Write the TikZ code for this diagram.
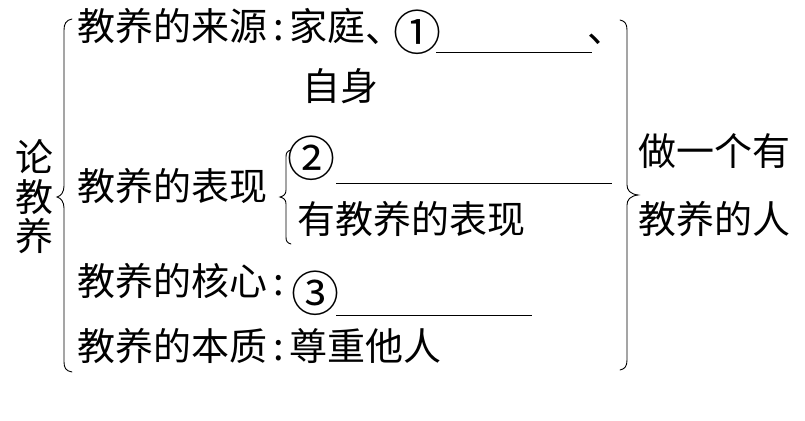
\documentclass[tikz,border=0pt]{standalone}
\usepackage{fontspec}
\setmainfont{Noto Sans CJK SC}
\begin{document}
\begin{tikzpicture}[x=1pt,y=-1pt,
  txt/.style={anchor=west,inner sep=0pt,text height=0.88em,text depth=0.12em,font=\fontsize{38}{40}\selectfont},
  glyph/.style={anchor=center,inner sep=0pt,font=\fontsize{38}{40}\selectfont},
  cnum/.style={anchor=center,inner sep=0pt,font=\fontsize{48}{48}\selectfont},
  bracepath/.style={line width=0.9pt,line cap=round},
  blank/.style={line width=0.9pt}]
\useasboundingbox (0,0) rectangle (805,420);
% root
\node[inner sep=0pt,align=center,font=\fontsize{38}{39.5}\selectfont] (root) at (35,197) {论\\教\\养};
% left brace
\draw[bracepath] (72,19) .. controls (66,20) and (64,24) .. (64,30) -- (64,186)
  .. controls (64,192) and (61,196) .. (57,197) .. controls (61,198) and (64,202) .. (64,208)
  -- (64,362) .. controls (64,368) and (66,371) .. (72,372);
% row 1
\node[txt] (r1) at (77,37) {教养的来源\kern6pt:\kern6pt家庭};
\node[glyph] (r1s) at (384,39) {、};
\node[cnum] (c1) at (417,32) {①};
\coordinate (u1a) at (436,52); \coordinate (u1b) at (592,52);
\draw[blank] (u1a) -- (u1b);
\node[glyph] (r1c) at (606,39) {、};
\node[txt] (r1b) at (302,97) {自身};
% row 2
\node[txt] (r2) at (77,197) {教养的表现};
\draw[bracepath] (291,150) .. controls (287,151) and (286,153) .. (286,157) -- (286,190)
  .. controls (286,194) and (284,196) .. (280,197) .. controls (284,198) and (286,200) .. (286,204)
  -- (286,237) .. controls (286,241) and (287,243) .. (291,244);
\node[cnum] (c2) at (311,158) {②};
\coordinate (u2a) at (336,183); \coordinate (u2b) at (612,183);
\draw[blank] (u2a) -- (u2b);
\node[txt] (r2b) at (297,230) {有教养的表现};
% row 3
\node[txt] (r3) at (77,292) {教养的核心\kern6pt:};
\node[cnum] (c3) at (315,293) {③};
\coordinate (u3a) at (336,315); \coordinate (u3b) at (532,315);
\draw[blank] (u3a) -- (u3b);
% row 4
\node[txt] (r4) at (77,357) {教养的本质\kern6pt:\kern6pt尊重他人};
% right brace
\draw[bracepath] (620,20) .. controls (625,21) and (627,24) .. (627,30) -- (627,185)
  .. controls (627,190) and (630,194) .. (638,195) .. controls (630,196) and (627,200) .. (627,205)
  -- (627,360) .. controls (627,366) and (625,369) .. (620,370);
\node[txt] (res1) at (638,162) {做一个有};
\node[txt] (res2) at (638,230) {教养的人};
\end{tikzpicture}
\end{document}
